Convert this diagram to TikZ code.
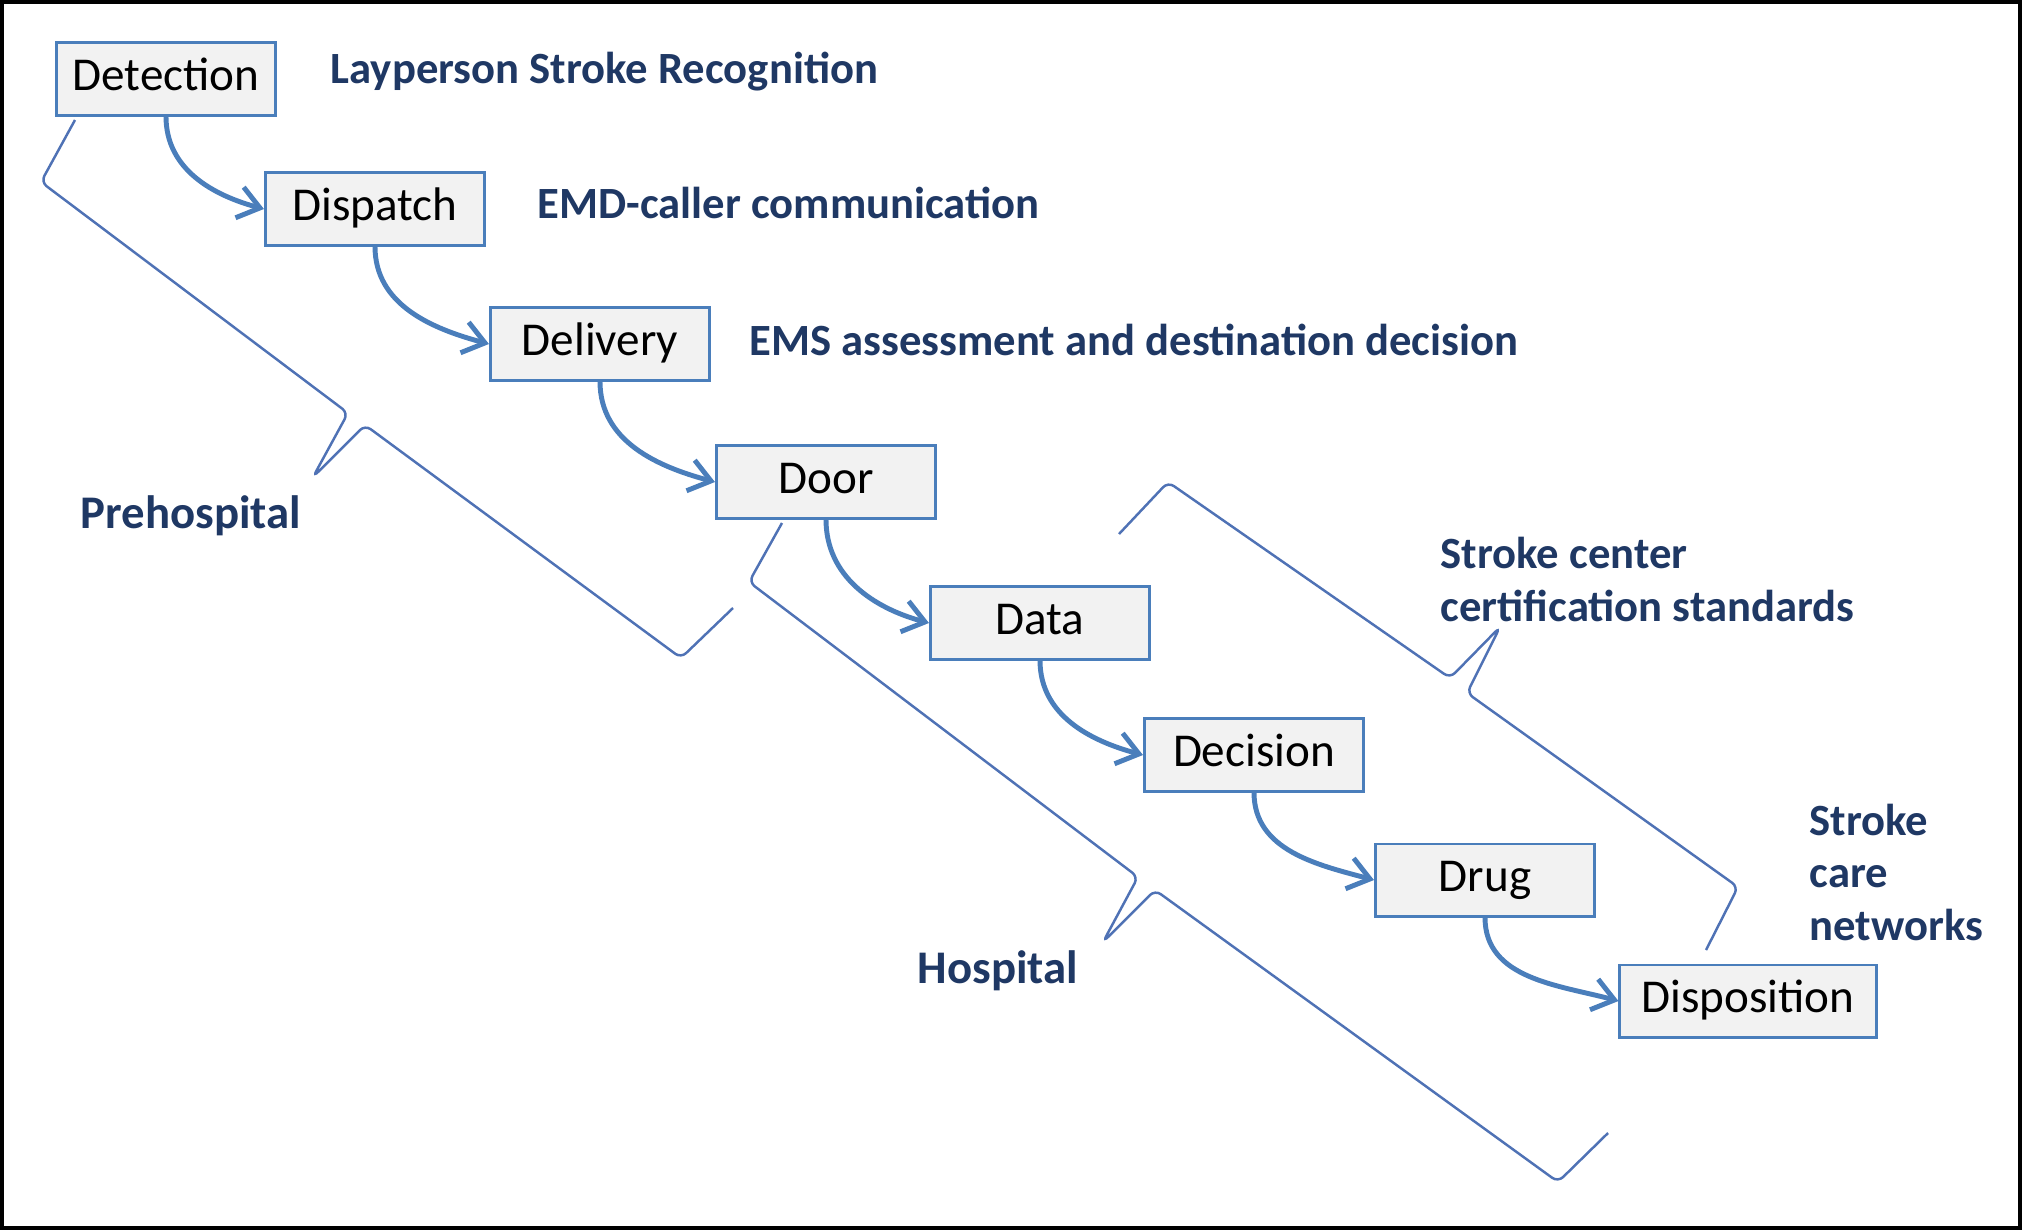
\documentclass[tikz,border=0pt]{standalone}
\usepackage{xcolor}
\usepackage{fontspec}
\setmainfont{Carlito}
\usetikzlibrary{arrows.meta}

\definecolor{cajaborde}{HTML}{4A7EBB}
\definecolor{cajafondo}{HTML}{F2F2F2}
\definecolor{llave}{HTML}{4F72B5}
\definecolor{rotulo}{HTML}{1F3864}

\begin{document}
\begin{tikzpicture}[x=0.01cm,y=-0.01cm,
    etapa/.style={draw=cajaborde,fill=cajafondo,line width=0.85pt,
      minimum width=2.19cm,minimum height=0.72cm,inner xsep=0.1cm,inner ysep=0pt,
      text height=0.74em,text depth=0.06em,font=\fontsize{13.4}{16}\selectfont},
    flecha/.style={draw=cajaborde,line width=1.4pt,-{Straight Barb[length=6pt,width=9pt]}},
    llaves/.style={draw=llave,line width=0.7pt,rounded corners=2pt},
    nota/.style={text=rotulo,inner sep=0pt,anchor=base west,align=left,
      font=\fontsize{12.7}{14.8}\selectfont\bfseries},
    fase/.style={text=rotulo,inner sep=0pt,anchor=base west,
      font=\fontsize{13.3}{16}\selectfont\bfseries}]

        % Paso 1: marco de la figura
        \useasboundingbox (0,0) rectangle (2022,1230);
        \draw[line width=1.1pt] (2,2) rectangle (2020,1228);

        % Paso 2: las ocho etapas en escalera
        \node[etapa] (det) at (166,79) {Detection};
        \node[etapa] (dis) at (375,209) {Dispatch};
        \node[etapa] (del) at (600,344) {Delivery};
        \node[etapa] (door) at (826,482) {Door};
        \node[etapa] (data) at (1040,623) {Data};
        \node[etapa] (dec) at (1254,755) {Decision};
        \node[etapa] (drug) at (1485,880) {Drug};
        \node[etapa,minimum width=2.56cm] (disp) at (1748,1001) {Disposition};

        % Paso 3: flechas curvas entre etapas
        \draw[flecha] (det.south) to[out=-90,in=165] (dis.west);
        \draw[flecha] (dis.south) to[out=-90,in=165] (del.west);
        \draw[flecha] (del.south) to[out=-90,in=165] (door.west);
        \draw[flecha] (door.south) to[out=-90,in=165] (data.west);
        \draw[flecha] (data.south) to[out=-90,in=165] (dec.west);
        \draw[flecha] (dec.south) to[out=-90,in=165] (drug.west);
        \draw[flecha] (drug.south) to[out=-90,in=165] (disp.west);

        % Paso 4: llaves inclinadas
        \draw[llaves] (75,120) -- (41,182) -- (348,413) -- (313,477)
            -- (365,425) -- (681,658) -- (733,608); % prehospitalaria
        \draw[llaves] (782,523) -- (749,582) -- (1138,877) -- (1103,942)
            -- (1155,890) -- (1558,1182) -- (1608,1133); % hospital
        \draw[llaves] (1119,534) -- (1168,482) -- (1450,678) -- (1500,627)
            -- (1467,693) -- (1738,887) -- (1706,950); % centros

        % Paso 5: rótulos (en los de varias líneas, la base es la última)
        \node[nota] (lay) at (330,83) {Layperson Stroke Recognition};
        \node[nota] (emd) at (537,218) {EMD-caller communication};
        \node[nota] (ems) at (749,355) {EMS assessment and destination decision};
        \node[fase] (pre) at (80,528) {Prehospital};
        \node[fase] (hos) at (917,983) {Hospital};
        \node[nota] (cert) at (1440,621) {Stroke center\\certification standards};
        \node[nota] (red) at (1809,940) {Stroke\\care\\networks};
\end{tikzpicture}
\end{document}
